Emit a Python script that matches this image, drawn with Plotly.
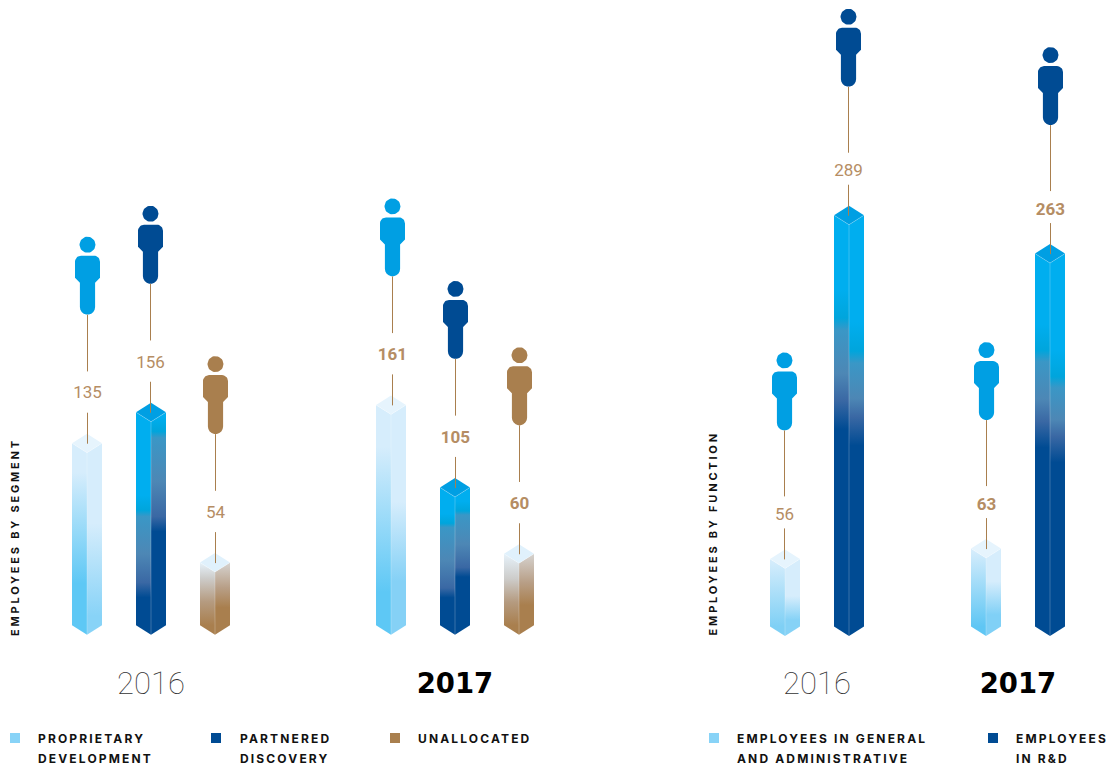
import numpy as np
import plotly.graph_objects as go

# ---------- data ----------
segment_years = ["2016", "2017"]
proprietary = [135, 161]
partnered = [156, 105]
unallocated = [54, 60]
function_years = ["2016", "2017"]
general_admin = [56, 63]
r_and_d = [289, 263]
axis_left = "EMPLOYEES BY SEGMENT"
axis_right = "EMPLOYEES BY FUNCTION"

W, H = 1112, 767
PX_L, ZERO_L, FLOOR_L = 1.474, 632.7, 634.7   # px per employee, value-zero pixel, bar floor pixel
PX_R, ZERO_R, FLOOR_R = 1.475, 632.0, 636.0
HW, DROP = 15, 9.5
BLUE, NAVY, BROWN = "#009fe3", "#004b93", "#a97f4e"
LBL = "#b58d64"
LINE = "#a97f4e"


def dark(a, n):
    return [[0, "#00aeef"], [max(a - .07, .01), "#00aeef"], [a, "#00a5dc"], [a + .03, "#3a97c6"],
            [(a + n) / 2, "#4d87b5"], [n - .07, "#3a68a4"], [n, NAVY], [1, NAVY]]


def light(a, n, end):
    return [[0, "#d6edfc"], [a, "#d6edfc"], [n, end], [1, end]]


def brown_l(a):
    return [[0, "#e6f2fa"], [a, "#cdccca"], [(a + 1) / 2, "#b59b80"], [1, BROWN]]


def brown_r(a):
    return [[0, "#d6d3d0"], [a, "#b89f87"], [a + .32, BROWN], [1, BROWN]]


# (bar center px, leader px, value, person colour, top colour, left ramp, right ramp, bold, panel)
bars = [
    (87, 87.5, proprietary[0], BLUE, "#e6f4fd", light(.16, .77, "#5ec8f5"), light(.44, .95, "#88d3f7"), False, "L"),
    (151, 150.5, partnered[0], NAVY, BLUE, dark(.46, .87), dark(.09, .56), False, "L"),
    (215, 215.5, unallocated[0], BROWN, "#e0f1fc", brown_l(.25), brown_r(.4), False, "L"),
    (391, 392.5, proprietary[1], BLUE, "#e6f4fd", light(.19, .85, "#5ec8f5"), light(.44, .8, "#85d1f6"), True, "L"),
    (455, 455.5, partnered[1], NAVY, BLUE, dark(.26, .8), dark(.17, .65), True, "L"),
    (519, 519.5, unallocated[1], BROWN, "#e0f1fc", brown_l(.35), brown_r(.4), True, "L"),
    (785, 784.5, general_admin[0], BLUE, "#e6f4fd", light(.02, 1, "#7fd0f5"), light(.55, .9, "#86d2f6"), False, "R"),
    (849, 848.5, r_and_d[0], NAVY, BLUE, dark(.25, .52), dark(.33, .56), False, "R"),
    (986, 986.5, general_admin[1], BLUE, "#e6f4fd", light(.02, 1, "#5fc6f4"), light(.42, .85, "#80d0f6"), True, "R"),
    (1050, 1050.5, r_and_d[1], NAVY, BLUE, dark(.26, .52), dark(.33, .56), True, "R"),
]

fig = go.Figure()


def person_path(cx):
    """Pixel offsets of the person glyph above its foot point (x px, rise px)."""
    def arc(ox, oy, r, a0, a1, n=10):
        t = np.radians(np.linspace(a0, a1, n))
        return list(ox + r * np.cos(t)), list(oy + r * np.sin(t))
    xs, ys = [], []
    ax, ay = arc(0, 7.6, 7.6, 180, 360)  # round foot
    xs += ax; ys += ay
    xs += [7.6, 12.5, 12.5]; ys += [32, 37, 53]
    ax, ay = arc(6.5, 53, 6, 0, 90)
    xs += ax; ys += ay
    ax, ay = arc(-6.5, 53, 6, 90, 180)
    xs += ax; ys += ay
    xs += [-12.5, -7.6, -7.6]; ys += [37, 32, 7.6]
    xs.append(xs[0]); ys.append(ys[0])
    xs.append(None); ys.append(None)
    hx, hy = arc(0, 70, 8, 0, 360, 40)
    xs += hx; ys += hy
    return [None if v is None else cx + v for v in xs], ys


def add(**kw):
    kw.setdefault("hoverinfo", "skip")
    kw.setdefault("showlegend", False)
    fig.add_trace(go.Scatter(**kw))


for cx, lx, val, col, topc, lramp, rramp, bold, panel in bars:
    k, zero, flr = (PX_L, ZERO_L, FLOOR_L) if panel == "L" else (PX_R, ZERO_R, FLOOR_R)
    ya = "y" if panel == "L" else "y2"
    up, low, mid = (62.3, 21, 39.5) if panel == "L" else (53, 21, 33.5)
    d = DROP / k
    floor = (zero - flr) / k
    top_corner, top_front, bot_corner = val - d, val - 2 * d, floor + d
    # left face
    add(x=[cx - HW, cx, cx, cx - HW, cx - HW], y=[top_corner, top_front, floor, bot_corner, top_corner], yaxis=ya,
        mode="lines", line=dict(width=0), fill="toself",
        fillgradient=dict(type="vertical", colorscale=lramp, start=top_corner, stop=bot_corner))
    # right face
    add(x=[cx, cx + HW, cx + HW, cx, cx], y=[top_front, top_corner, bot_corner, floor, top_front], yaxis=ya,
        mode="lines", line=dict(width=0), fill="toself",
        fillgradient=dict(type="vertical", colorscale=rramp, start=top_corner, stop=bot_corner))
    # top face
    add(x=[cx - HW, cx, cx + HW, cx, cx - HW], y=[top_corner, val, top_corner, top_front, top_corner], yaxis=ya,
        mode="lines", line=dict(width=0), fill="toself", fillcolor=topc)
    # front edge highlight
    add(x=[cx - HW, cx, cx + HW, None, cx, cx], y=[top_corner, top_front, top_corner, None, top_front, floor], yaxis=ya,
        mode="lines", line=dict(width=0.8, color="rgba(255,255,255,0.28)"))
    # person
    foot = val + 119 / k
    px, rise = person_path(lx)
    add(x=px, y=[None if r is None else foot + r / k for r in rise], yaxis=ya,
        mode="lines", line=dict(width=0), fill="toself", fillcolor=col)
    # leader lines
    add(x=[lx, lx, None, lx, lx], y=[foot, val + up / k, None, val + low / k, val - 10 / k], yaxis=ya,
        mode="lines", line=dict(width=1, color=LINE))
    # value label
    add(x=[lx], y=[val + mid / k], yaxis=ya, mode="text", text=[str(val)], textposition="middle center",
        textfont=dict(family="Roboto", size=17, color=LBL, weight=700 if bold else 400))

# year labels (centered under each group)
for cx, label, bold, ya, k, zero in [
    (151, segment_years[0], False, "y", PX_L, ZERO_L), (455, segment_years[1], True, "y", PX_L, ZERO_L),
    (817, function_years[0], False, "y2", PX_R, ZERO_R), (1018, function_years[1], True, "y2", PX_R, ZERO_R),
]:
    add(x=[cx], y=[(zero - 686.5) / k], yaxis=ya, mode="text", text=[label], textposition="middle center",
        textfont=dict(family="DejaVu Sans" if bold else "Roboto", size=27.5 if bold else 31,
                      color="#000000" if bold else "#333333", weight=700 if bold else 100))

# legend swatches + labels
legend = [
    (15, "#88d3f7", 37, ["PROPRIETARY", "DEVELOPMENT"]),
    (216, NAVY, 239, ["PARTNERED", "DISCOVERY"]),
    (395, BROWN, 417, ["UNALLOCATED"]),
    (714, "#88d3f7", 736, ["EMPLOYEES IN GENERAL", "AND ADMINISTRATIVE"]),
    (993, NAVY, 1015, ["EMPLOYEES", "IN R&D"]),
]
ann = []
for sx, c, tx, lines in legend:
    add(x=[sx], y=[(ZERO_L - 738) / PX_L], mode="markers",
        marker=dict(symbol="square", size=10, color=c, line=dict(width=0)))
    for i, label in enumerate(lines):
        ann.append(dict(x=tx, y=(ZERO_L - (738.5 + 20 * i)) / PX_L, xref="x", yref="y", xanchor="left", yanchor="middle",
                        align="left", showarrow=False, borderpad=0, text=label,
                        font=dict(family="Inter", size=12, color="#111111", weight=700)))
n_legend = len(ann)
ann.append(dict(x=15, y=(ZERO_L - 537) / PX_L, xref="x", yref="y", textangle=-90, showarrow=False, text=axis_left,
                font=dict(family="Inter", size=11, color="#111111", weight=700)))
ann.append(dict(x=713, y=(ZERO_L - 534) / PX_L, xref="x", yref="y", textangle=-90, showarrow=False, text=axis_right,
                font=dict(family="Inter", size=11, color="#111111", weight=700)))

hidden = dict(visible=False, fixedrange=True)
fig.update_layout(
    width=W, height=H, margin=dict(l=0, r=0, t=0, b=0), paper_bgcolor="white", plot_bgcolor="white",
    xaxis=dict(range=[0, W], **hidden),
    yaxis=dict(range=[(ZERO_L - H) / PX_L, ZERO_L / PX_L], **hidden),
    yaxis2=dict(range=[(ZERO_R - H) / PX_R, ZERO_R / PX_R], overlaying="y", **hidden),
    annotations=ann,
)

post = """
document.body.style.margin='0';
document.querySelectorAll('.annotation').forEach(function(a){
  var r=+a.getAttribute('data-index');
  a.querySelectorAll('.annotation-text').forEach(function(e){
    e.style.letterSpacing=(r>=%d)?'2.8px':'2.15px';
  });
});
""" % n_legend
fig.write_html("out.html", post_script=post, config={"displayModeBar": False})
